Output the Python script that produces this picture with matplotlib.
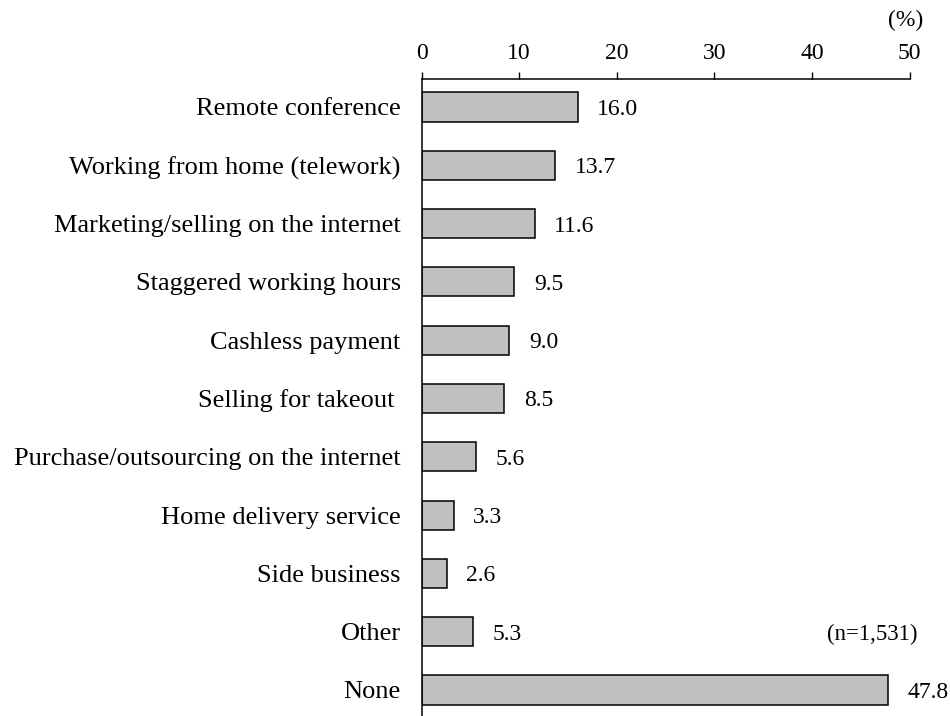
import matplotlib.pyplot as plt
import numpy as np

categories = ["Remote conference", "Working from home (telework)",
              "Marketing/selling on the internet", "Staggered working hours",
              "Cashless payment", "Selling for takeout ",
              "Purchase/outsourcing on the internet", "Home delivery service",
              "Side business", "Other", "None"]
values = [16.0, 13.7, 11.6, 9.5, 9.0, 8.5, 5.6, 3.3, 2.6, 5.3, 47.8]
xticks = [0, 10, 20, 30, 40, 50]

plt.rcParams['font.family'] = ['Liberation Serif', 'DejaVu Serif']

fig = plt.figure(figsize=(9.5, 7.16), dpi=100)
ax = fig.add_axes([0.4437, 0.0, 0.5137, 0.8897])

y = np.arange(len(categories))
ax.barh(y, values, height=0.5, color='#c0c0c0', edgecolor='black', linewidth=1.1)

# value labels just right of each bar
for yi, v in zip(y, values):
    ax.text(v + 2.0, yi, f"{v:.1f}", va='center_baseline', ha='left', fontsize=17)

ax.set_xlim(0, 50)
ax.set_ylim(10.446, -0.48)
ax.set_yticks(y)
ax.set_yticklabels(categories, fontsize=19, va='center_baseline')
ax.tick_params(axis='y', length=0, pad=15)
ax.set_xticks(xticks)
ax.xaxis.tick_top()
ax.tick_params(axis='x', direction='out', length=5, pad=6, width=1, labelsize=17)
for s in ['right', 'bottom']:
    ax.spines[s].set_visible(False)
for s in ['left', 'top']:
    ax.spines[s].set_linewidth(1.1)

ax.text(50.77, 9.0, "(n=1,531)", ha='right', va='center_baseline', fontsize=16.5)
fig.text(0.9716, 0.972, "(%)", ha='right', va='center', fontsize=17)

fig.savefig("out.png", dpi=100)
